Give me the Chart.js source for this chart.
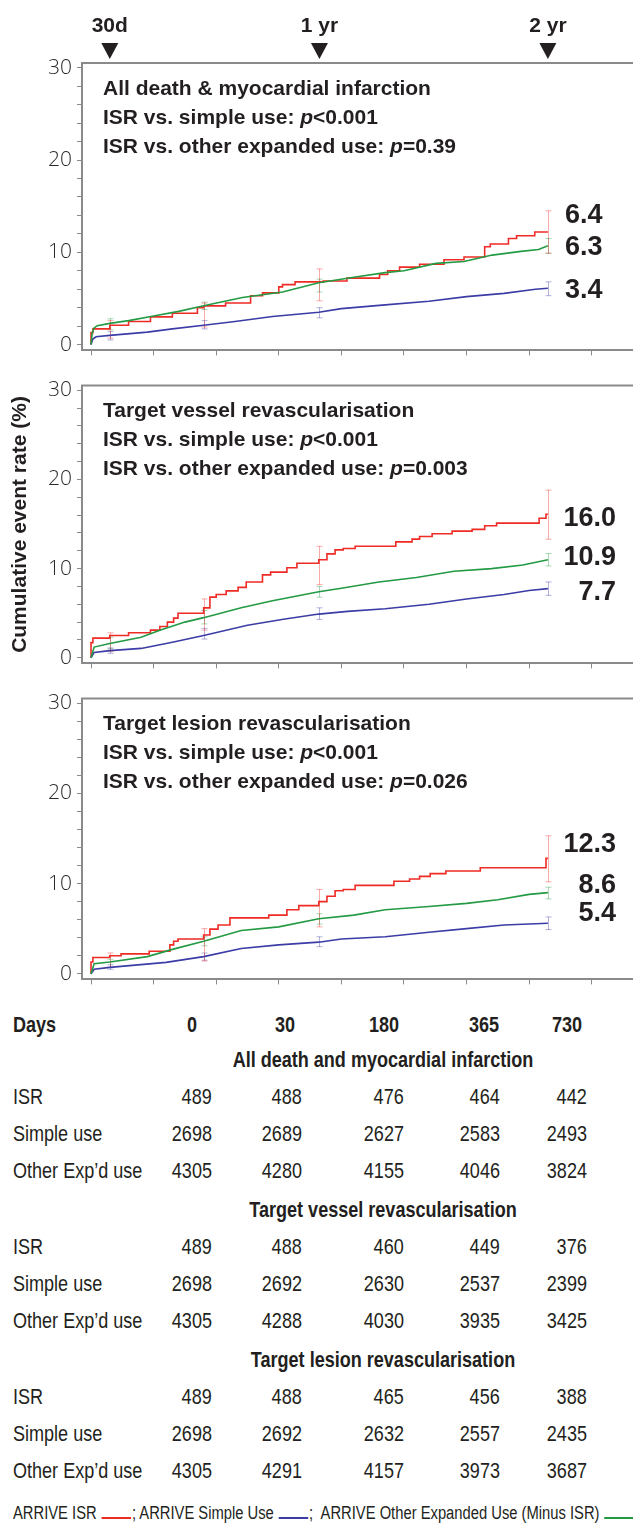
<!DOCTYPE html>
<html>
<head>
<meta charset="utf-8">
<script src="https://cdn.jsdelivr.net/npm/chart.js@4.4.1/dist/chart.umd.min.js"></script>
<style>
  body { margin: 0; background: #fff; }
  #page { position: relative; width: 633px; height: 1523px; overflow: hidden; background: #fff; color: #231f20;
          font-family: 'Liberation Sans', Arial, sans-serif; }
  #page canvas { position: absolute; left: 0; }
  .tx { position: absolute; white-space: nowrap; }
  .key { display: inline-block; width: 36px; height: 0; border-bottom: 2px solid; margin: 0 1px; }
</style>
</head>
<body>
<div id="page">
  <canvas id="c1" width="633" height="368" style="top:0"></canvas>
  <canvas id="c2" width="633" height="313" style="top:368px"></canvas>
  <canvas id="c3" width="633" height="316" style="top:681px"></canvas>
</div>
<script>
// axes
const xTicks = [0, 100, 200, 300, 400, 500, 600, 700, 800]
const yTicks = [0, 2, 4, 6, 8, 10, 12, 14, 16, 18, 20, 22, 24, 26, 28, 30]
const markerDays = [30, 365, 730]
const markerLabels = ['30d', '1 yr', '2 yr']

// All death & MI: [day, cumulative %]
const deathMiIsr = [[0,0],[3,1.3],[30,1.7],[60,2.1],[95,2.5],[130,3.0],[170,3.4],[180,4.0],[215,4.2],[255,4.5],[274,5.3],[300,5.6],[306,6.25],[326,6.5],[371,6.8],[409,6.9],[461,7.2],[474,7.6],[493,8.0],[525,8.4],[564,8.7],[596,9.2],[629,9.5],[638,10.6],[667,10.9],[680,11.5],[709,11.8],[722,12.2],[730,12.2]]
const deathMiSimple = [[0,0],[3,0.6],[8,0.85],[30,1.0],[90,1.35],[130,1.7],[180,2.1],[230,2.5],[290,3.05],[364,3.5],[400,3.9],[470,4.3],[540,4.7],[600,5.2],[660,5.55],[710,6.0],[730,6.1]]
const deathMiOther = [[0,0],[2,1.3],[5,1.8],[10,2.05],[30,2.3],[60,2.6],[100,3.1],[140,3.6],[180,4.2],[242,5.1],[306,5.7],[364,6.7],[420,7.3],[470,7.8],[500,8.0],[551,8.8],[596,9.0],[641,9.7],[687,10.1],[715,10.3],[730,10.7]]
// [day, lower, upper]
const deathMiIsrCI = [[30,0.7,2.6],[180,1.9,4.5],[365,4.75,8.2],[730,9.9,14.5]]
const deathMiSimpleCI = [[30,0.5,1.4],[180,1.7,2.6],[365,2.9,4.0],[730,5.3,6.8]]
const deathMiOtherCI = [[30,1.6,2.8],[180,3.8,4.6],[365,5.7,7.1],[730,9.9,11.5]]

// Target vessel revascularisation
const tvrIsr = [[0,0],[3,1.7],[30,2.2],[60,2.5],[95,2.8],[110,3.1],[122,3.5],[132,4.0],[139,4.45],[180,5.0],[190,5.6],[200,6.8],[216,7.1],[235,7.5],[248,7.9],[274,8.5],[287,9.3],[313,9.6],[329,10.1],[364,10.6],[377,11.0],[390,11.65],[403,12.1],[422,12.25],[487,12.5],[513,13.0],[525,13.3],[545,13.6],[577,13.9],[609,14.2],[629,14.4],[648,14.8],[716,15.1],[727,15.65],[730,16.1]]
const tvrSimple = [[0,0],[5,0.6],[30,0.8],[80,1.05],[130,1.75],[180,2.5],[250,3.65],[310,4.35],[364,4.9],[410,5.2],[470,5.5],[540,6.0],[600,6.6],[660,7.1],[700,7.55],[730,7.75]]
const tvrOther = [[0,0],[5,1.2],[30,1.6],[80,2.3],[110,3.1],[150,4.0],[180,4.5],[240,5.6],[290,6.4],[364,7.4],[400,7.8],[460,8.5],[520,9.0],[580,9.7],[640,10.0],[690,10.4],[730,11.0]]
const tvrIsrCI = [[30,0.7,2.8],[180,3.1,6.6],[365,8.2,12.5],[730,13.3,18.8]]
const tvrSimpleCI = [[30,0.5,1.1],[180,2.1,3.3],[365,4.3,5.6],[730,7.0,8.5]]
const tvrOtherCI = [[30,1.0,2.3],[180,3.8,5.3],[365,6.8,8.0],[730,10.3,11.7]]

// Target lesion revascularisation
const tlrIsr = [[0,0],[3,1.3],[30,1.8],[48,2.0],[93,2.2],[126,2.5],[132,3.2],[139,3.6],[180,3.85],[190,4.3],[203,4.95],[222,5.4],[284,6.2],[313,6.5],[332,7.1],[364,7.55],[377,8.0],[390,8.6],[403,9.2],[422,9.35],[484,9.8],[509,10.25],[525,10.5],[542,10.8],[567,11.1],[622,11.4],[648,11.75],[727,11.75],[730,12.8]]
const tlrSimple = [[0,0],[5,0.5],[30,0.7],[120,1.26],[180,1.9],[240,2.8],[300,3.2],[364,3.5],[400,3.85],[470,4.1],[540,4.6],[600,5.0],[660,5.4],[730,5.6]]
const tlrOther = [[0,0],[5,1.1],[30,1.3],[90,1.9],[130,2.7],[180,3.6],[240,4.8],[300,5.2],[364,6.1],[420,6.5],[470,7.1],[540,7.45],[600,7.8],[650,8.2],[700,8.8],[730,9.0]]
const tlrIsrCI = [[30,0.7,2.3],[180,1.4,5.0],[365,5.2,9.35],[730,10.2,15.3]]
const tlrSimpleCI = [[30,0.5,1.0],[180,1.5,2.3],[365,3.0,4.1],[730,4.9,6.3]]
const tlrOtherCI = [[30,0.7,1.6],[180,3.1,4.1],[365,5.5,6.65],[730,8.3,9.6]]

// numbers at risk
const riskDays = [0, 30, 180, 365, 730]
const riskGroups = ['ISR', 'Simple use', 'Other Exp\u2019d use']
const riskDeathMi = [[489,488,476,464,442],[2698,2689,2627,2583,2493],[4305,4280,4155,4046,3824]]
const riskTvr = [[489,488,460,449,376],[2698,2692,2630,2537,2399],[4305,4288,4030,3935,3425]]
const riskTlr = [[489,488,465,456,388],[2698,2692,2632,2557,2435],[4305,4291,4157,3973,3687]]

const RED = '#ee2b25', BLUE = '#3b3ca6', GREEN = '#239a43'
const RED_CI = 'rgba(238,43,37,0.4)', BLUE_CI = 'rgba(59,60,166,0.4)', GREEN_CI = 'rgba(35,154,67,0.4)'
const INK = '#231f20', FRAME = '#8a8a8a'
const SANS = '"Liberation Sans", Arial, sans-serif'
const NARROW = 0.82   // no condensed face installed, squeeze the table text instead

const panelDeco = {
  id: 'panelDeco',
  beforeDatasetsDraw(chart, args, o) {
    const { ctx, scales: { x, y } } = chart
    ctx.save()
    ctx.lineWidth = 1
    o.bars.forEach(([rows, color]) => {
      ctx.strokeStyle = color
      rows.forEach(([d, lo, hi]) => {
        const px = Math.round(x.getPixelForValue(d)) + 0.5
        const y1 = y.getPixelForValue(lo), y2 = y.getPixelForValue(hi)
        ctx.beginPath()
        ctx.moveTo(px, y1); ctx.lineTo(px, y2)
        ctx.moveTo(px - 3, y1); ctx.lineTo(px + 3, y1)
        ctx.moveTo(px - 3, y2); ctx.lineTo(px + 3, y2)
        ctx.stroke()
      })
    })
    ctx.restore()
  },
  afterDraw(chart, args, o) {
    const { ctx, chartArea: a, scales: { x, y } } = chart
    ctx.save()
    ctx.strokeStyle = FRAME
    ctx.lineWidth = 2
    ctx.beginPath(); ctx.moveTo(a.left - 1, a.top); ctx.lineTo(a.right, a.top); ctx.stroke()

    ctx.fillStyle = INK
    ctx.textBaseline = 'middle'
    o.heading.forEach((segs, i) => {
      let tx = 103
      segs.forEach(([s, it]) => {
        ctx.font = (it ? 'italic ' : '') + 'bold 21px ' + SANS
        ctx.fillText(s, tx, a.top + 26 + i * 29)
        tx += ctx.measureText(s).width
      })
    })

    ctx.font = 'bold 27px ' + SANS
    ctx.textAlign = o.endAlign
    o.ends.forEach(([s, v]) => ctx.fillText(s, o.endX, y.getPixelForValue(v)))

    if (o.markers) {
      ctx.textAlign = 'center'
      ctx.font = 'bold 21px ' + SANS
      markerDays.forEach((d, i) => {
        const px = x.getPixelForValue(d)
        ctx.fillText(markerLabels[i], px, 26)
        ctx.beginPath()
        ctx.moveTo(px - 8.5, 43); ctx.lineTo(px + 8.5, 43); ctx.lineTo(px, 59)
        ctx.closePath(); ctx.fill()
      })
    }
    ctx.restore()
  }
}

function panel(id, padTop, series, deco, yTitle) {
  return new Chart(document.getElementById(id), {
    type: 'line',
    data: {
      datasets: series.map(([pts, color, stepped]) => ({
        data: pts.map(([x, y]) => ({ x, y })),
        borderColor: color,
        borderWidth: 1.6,
        pointRadius: 0,
        stepped: stepped ? 'after' : false,
        tension: 0,
        fill: false,
      })),
    },
    options: {
      responsive: false,
      animation: false,
      events: [],
      layout: { padding: { top: padTop, left: 0, right: 0, bottom: 0 } },
      plugins: { legend: { display: false }, tooltip: { enabled: false }, panelDeco: deco },
      scales: {
        x: {
          type: 'linear',
          min: -14.4,
          max: 866,
          afterBuildTicks: (s) => { s.ticks = xTicks.map((v) => ({ value: v })) },
          afterFit: (s) => { s.height = 8 },
          ticks: { display: false },
          grid: { drawOnChartArea: false, drawTicks: true, tickLength: 5, color: FRAME, lineWidth: 1 },
          border: { display: true, color: FRAME, width: 2 },
        },
        y: {
          type: 'linear',
          min: -0.63,
          max: 30.52,
          afterBuildTicks: (s) => { s.ticks = yTicks.map((v) => ({ value: v })) },
          afterFit: (s) => { s.width = 82 },
          ticks: {
            autoSkip: false,
            padding: 5,
            color: '#2a2a2a',
            font: { family: '"Open Sans", sans-serif', size: 21, weight: 300 },
            callback: (v) => (v % 10 === 0 ? String(v) : ''),
          },
          grid: { drawOnChartArea: false, drawTicks: true, tickLength: 5, color: FRAME, lineWidth: 1 },
          border: { display: true, color: FRAME, width: 2 },
          title: {
            display: !!yTitle,
            text: yTitle || '',
            color: INK,
            font: { family: SANS, size: 21, weight: 'bold', lineHeight: 1.2 },
            padding: { top: 8, bottom: 0 },
          },
        },
      },
    },
    plugins: [panelDeco],
  })
}

panel('c1', 63, [[deathMiOther, GREEN], [deathMiSimple, BLUE], [deathMiIsr, RED, true]], {
  bars: [[deathMiOtherCI, GREEN_CI], [deathMiSimpleCI, BLUE_CI], [deathMiIsrCI, RED_CI]],
  heading: [
    [['All death & myocardial infarction']],
    [['ISR vs. simple use: '], ['p', true], ['<0.001']],
    [['ISR vs. other expanded use: '], ['p', true], ['=0.39']],
  ],
  ends: [['6.4', 14.0], ['6.3', 10.5], ['3.4', 5.85]],
  endAlign: 'left', endX: 565,
  markers: true,
})

panel('c2', 8, [[tvrOther, GREEN], [tvrSimple, BLUE], [tvrIsr, RED, true]], {
  bars: [[tvrOtherCI, GREEN_CI], [tvrSimpleCI, BLUE_CI], [tvrIsrCI, RED_CI]],
  heading: [
    [['Target vessel revascularisation']],
    [['ISR vs. simple use: '], ['p', true], ['<0.001']],
    [['ISR vs. other expanded use: '], ['p', true], ['=0.003']],
  ],
  ends: [['16.0', 15.6], ['10.9', 11.2], ['7.7', 7.3]],
  endAlign: 'right', endX: 616,
}, 'Cumulative event rate (%)')

panel('c3', 11, [[tlrOther, GREEN], [tlrSimple, BLUE], [tlrIsr, RED, true]], {
  bars: [[tlrOtherCI, GREEN_CI], [tlrSimpleCI, BLUE_CI], [tlrIsrCI, RED_CI]],
  heading: [
    [['Target lesion revascularisation']],
    [['ISR vs. simple use: '], ['p', true], ['<0.001']],
    [['ISR vs. other expanded use: '], ['p', true], ['=0.026']],
  ],
  ends: [['12.3', 14.3], ['8.6', 9.8], ['5.4', 6.7]],
  endAlign: 'right', endX: 616,
})

// numbers-at-risk table
const page = document.getElementById('page')
function put(text, x, y, fs, align, bold) {
  const d = document.createElement('div')
  d.className = 'tx'
  d.textContent = text
  d.style.fontSize = fs + 'px'
  d.style.lineHeight = fs + 'px'
  d.style.top = (y - fs / 2) + 'px'
  if (bold) d.style.fontWeight = 'bold'
  if (align === 'right') {
    d.style.right = (633 - x) + 'px'
    d.style.transformOrigin = 'right center'
    d.style.transform = 'scaleX(' + NARROW + ')'
  } else if (align === 'center') {
    d.style.left = x + 'px'
    d.style.transform = 'translateX(-50%) scaleX(' + NARROW + ')'
  } else {
    d.style.left = x + 'px'
    d.style.transformOrigin = 'left center'
    d.style.transform = 'scaleX(' + NARROW + ')'
  }
  page.appendChild(d)
}

const colRight = [212, 302, 404, 500, 587]
const colHead = [192, 285, 384, 484, 567]
put('Days', 13, 1025, 22, 'left', true)
riskDays.forEach((d, i) => put(String(d), colHead[i], 1025, 22, 'center', true))

const blocks = [
  ['All death and myocardial infarction', riskDeathMi, 1060],
  ['Target vessel revascularisation', riskTvr, 1210],
  ['Target lesion revascularisation', riskTlr, 1360],
]
blocks.forEach(([name, rows, top]) => {
  put(name, 383, top, 22, 'center', true)
  rows.forEach((vals, r) => {
    const ry = top + 37 * (r + 1)
    put(riskGroups[r], 13, ry, 22, 'left')
    vals.forEach((v, c) => put(String(v), colRight[c], ry, 22, 'right'))
  })
})

const legend = document.createElement('div')
legend.className = 'tx'
legend.style.cssText = 'left:13px; top:1503px; font-size:18px; line-height:20px; transform-origin:left center; transform:scaleX(' + NARROW + ');'
legend.innerHTML = 'ARRIVE ISR <span class="key" style="border-color:' + RED + '"></span>; ARRIVE Simple Use ' +
  '<span class="key" style="border-color:' + BLUE + '"></span>;&nbsp; ARRIVE Other Expanded Use (Minus ISR) ' +
  '<span class="key" style="border-color:' + GREEN + '"></span>'
page.appendChild(legend)
</script>
</body>
</html>
